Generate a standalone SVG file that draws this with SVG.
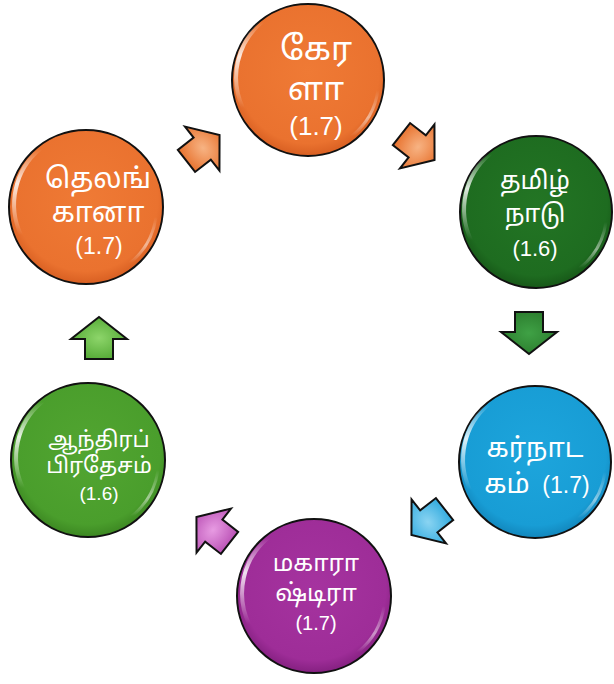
<svg xmlns="http://www.w3.org/2000/svg" xmlns:xlink="http://www.w3.org/1999/xlink" width="614" height="684" viewBox="0 0 614 684">
<defs>
<radialGradient id="gOrange" cx="0.5" cy="0.45" r="0.55"><stop offset="0" stop-color="#EF7A35"/><stop offset="0.85" stop-color="#EA722F"/><stop offset="1" stop-color="#D85F22"/></radialGradient>
<radialGradient id="gDark" cx="0.5" cy="0.45" r="0.55"><stop offset="0" stop-color="#237524"/><stop offset="0.85" stop-color="#1E6C20"/><stop offset="1" stop-color="#175818"/></radialGradient>
<radialGradient id="gBlue" cx="0.5" cy="0.45" r="0.55"><stop offset="0" stop-color="#1DA5DC"/><stop offset="0.85" stop-color="#189DD5"/><stop offset="1" stop-color="#1286BC"/></radialGradient>
<radialGradient id="gPurple" cx="0.5" cy="0.45" r="0.55"><stop offset="0" stop-color="#A5339F"/><stop offset="0.85" stop-color="#9E2D98"/><stop offset="1" stop-color="#842080"/></radialGradient>
<radialGradient id="gLight" cx="0.5" cy="0.45" r="0.55"><stop offset="0" stop-color="#52A531"/><stop offset="0.85" stop-color="#4A9E2C"/><stop offset="1" stop-color="#3C8722"/></radialGradient>
<radialGradient id="aOrange" cx="0.5" cy="0.5" r="0.6"><stop offset="0" stop-color="#F7B383"/><stop offset="1" stop-color="#E66B25"/></radialGradient>
<radialGradient id="aDark" cx="0.5" cy="0.5" r="0.6"><stop offset="0" stop-color="#3FA145"/><stop offset="1" stop-color="#2A7A2C"/></radialGradient>
<radialGradient id="aBlue" cx="0.5" cy="0.5" r="0.6"><stop offset="0" stop-color="#8AD4F2"/><stop offset="1" stop-color="#28A6DC"/></radialGradient>
<radialGradient id="aPurple" cx="0.5" cy="0.5" r="0.6"><stop offset="0" stop-color="#E79BE2"/><stop offset="1" stop-color="#B548B0"/></radialGradient>
<radialGradient id="aLight" cx="0.5" cy="0.5" r="0.6"><stop offset="0" stop-color="#8DD56A"/><stop offset="1" stop-color="#4EA530"/></radialGradient>
<linearGradient id="shineL" x1="0" y1="0" x2="0" y2="1"><stop offset="0" stop-color="#fff" stop-opacity="0"/><stop offset="0.4" stop-color="#fff" stop-opacity="0.85"/><stop offset="1" stop-color="#fff" stop-opacity="0"/></linearGradient>
<linearGradient id="shineR" x1="0" y1="0" x2="0" y2="1"><stop offset="0" stop-color="#fff" stop-opacity="0"/><stop offset="0.6" stop-color="#fff" stop-opacity="0.5"/><stop offset="1" stop-color="#fff" stop-opacity="0"/></linearGradient>
<g id="gloss">
<path d="M -46,-58 A 72,72 0 0 0 -65,28" fill="none" stroke="url(#shineL)" stroke-width="4" stroke-linecap="round"/>
<path d="M 70,10 A 72,72 0 0 1 44,56" fill="none" stroke="url(#shineR)" stroke-width="3" stroke-linecap="round"/>
</g>
<path id="arrow" d="M0,-21 L28,1 L14,1 L14,21 L-14,21 L-14,1 L-28,1 Z"/>
</defs>
<style>
.circ{stroke:#111;stroke-width:2}
.t{fill:#fff;font-family:"Noto Sans Tamil","Noto Sans","Liberation Sans",sans-serif;text-anchor:middle}
.n{fill:#fff;font-family:"Liberation Sans",Arial,sans-serif;text-anchor:middle}
.arr{stroke:#111;stroke-width:2;stroke-linejoin:miter}
</style>

<g id="connectors">
<g transform="translate(203,148) rotate(52)"><use xlink:href="#arrow" class="arr" fill="url(#aOrange)"/></g>
<g transform="translate(418,147) rotate(128)"><use xlink:href="#arrow" class="arr" fill="url(#aOrange)"/></g>
<g transform="translate(529,333) rotate(180)"><use xlink:href="#arrow" class="arr" fill="url(#aDark)"/></g>
<g transform="translate(428,522) rotate(-128)"><use xlink:href="#arrow" class="arr" fill="url(#aBlue)"/></g>
<g transform="translate(213,530) rotate(-52)"><use xlink:href="#arrow" class="arr" fill="url(#aPurple)"/></g>
<g transform="translate(99,338)"><use xlink:href="#arrow" class="arr" fill="url(#aLight)"/></g>
</g>

<g id="kerala">
<circle cx="308" cy="80" r="76" class="circ" fill="url(#gOrange)"/>
<use xlink:href="#gloss" x="308" y="80"/>
<text class="t" x="316" y="60" font-size="33">கேர</text>
<text class="t" x="316" y="100" font-size="33">ளா</text>
<text class="n" x="316" y="135" font-size="26">(1.7)</text>
</g>

<g id="tamilnadu">
<circle cx="536" cy="212" r="76" class="circ" fill="url(#gDark)"/>
<use xlink:href="#gloss" x="536" y="212"/>
<text class="t" x="535" y="189" font-size="25">தமிழ்</text>
<text class="t" x="535" y="222" font-size="25">நாடு</text>
<text class="n" x="535" y="256" font-size="22">(1.6)</text>
</g>

<g id="karnataka">
<circle cx="535" cy="462" r="76" class="circ" fill="url(#gBlue)"/>
<use xlink:href="#gloss" x="535" y="462"/>
<text class="t" x="535" y="457" font-size="27">கர்நாட</text>
<text class="t" x="507" y="493" font-size="27">கம்</text>
<text class="n" x="566" y="493" font-size="23">(1.7)</text>
</g>

<g id="maharashtra">
<circle cx="314" cy="596" r="77" class="circ" fill="url(#gPurple)"/>
<use xlink:href="#gloss" x="314" y="596"/>
<text class="t" x="316" y="571" font-size="24">மகாரா</text>
<text class="t" x="316" y="601" font-size="24">ஷ்டிரா</text>
<text class="n" x="316" y="630" font-size="20">(1.7)</text>
</g>

<g id="andhra">
<circle cx="88" cy="460" r="77" class="circ" fill="url(#gLight)"/>
<use xlink:href="#gloss" x="88" y="460"/>
<text class="t" x="99" y="447" font-size="22">ஆந்திரப்</text>
<text class="t" x="99" y="473" font-size="22">பிரதேசம்</text>
<text class="n" x="99" y="500" font-size="19">(1.6)</text>
</g>

<g id="telangana">
<circle cx="86" cy="207" r="77" class="circ" fill="url(#gOrange)"/>
<use xlink:href="#gloss" x="86" y="207"/>
<text class="t" x="98" y="188" font-size="28">தெலங்</text>
<text class="t" x="98" y="222" font-size="28">கானா</text>
<text class="n" x="99" y="254" font-size="23">(1.7)</text>
</g>
</svg>
